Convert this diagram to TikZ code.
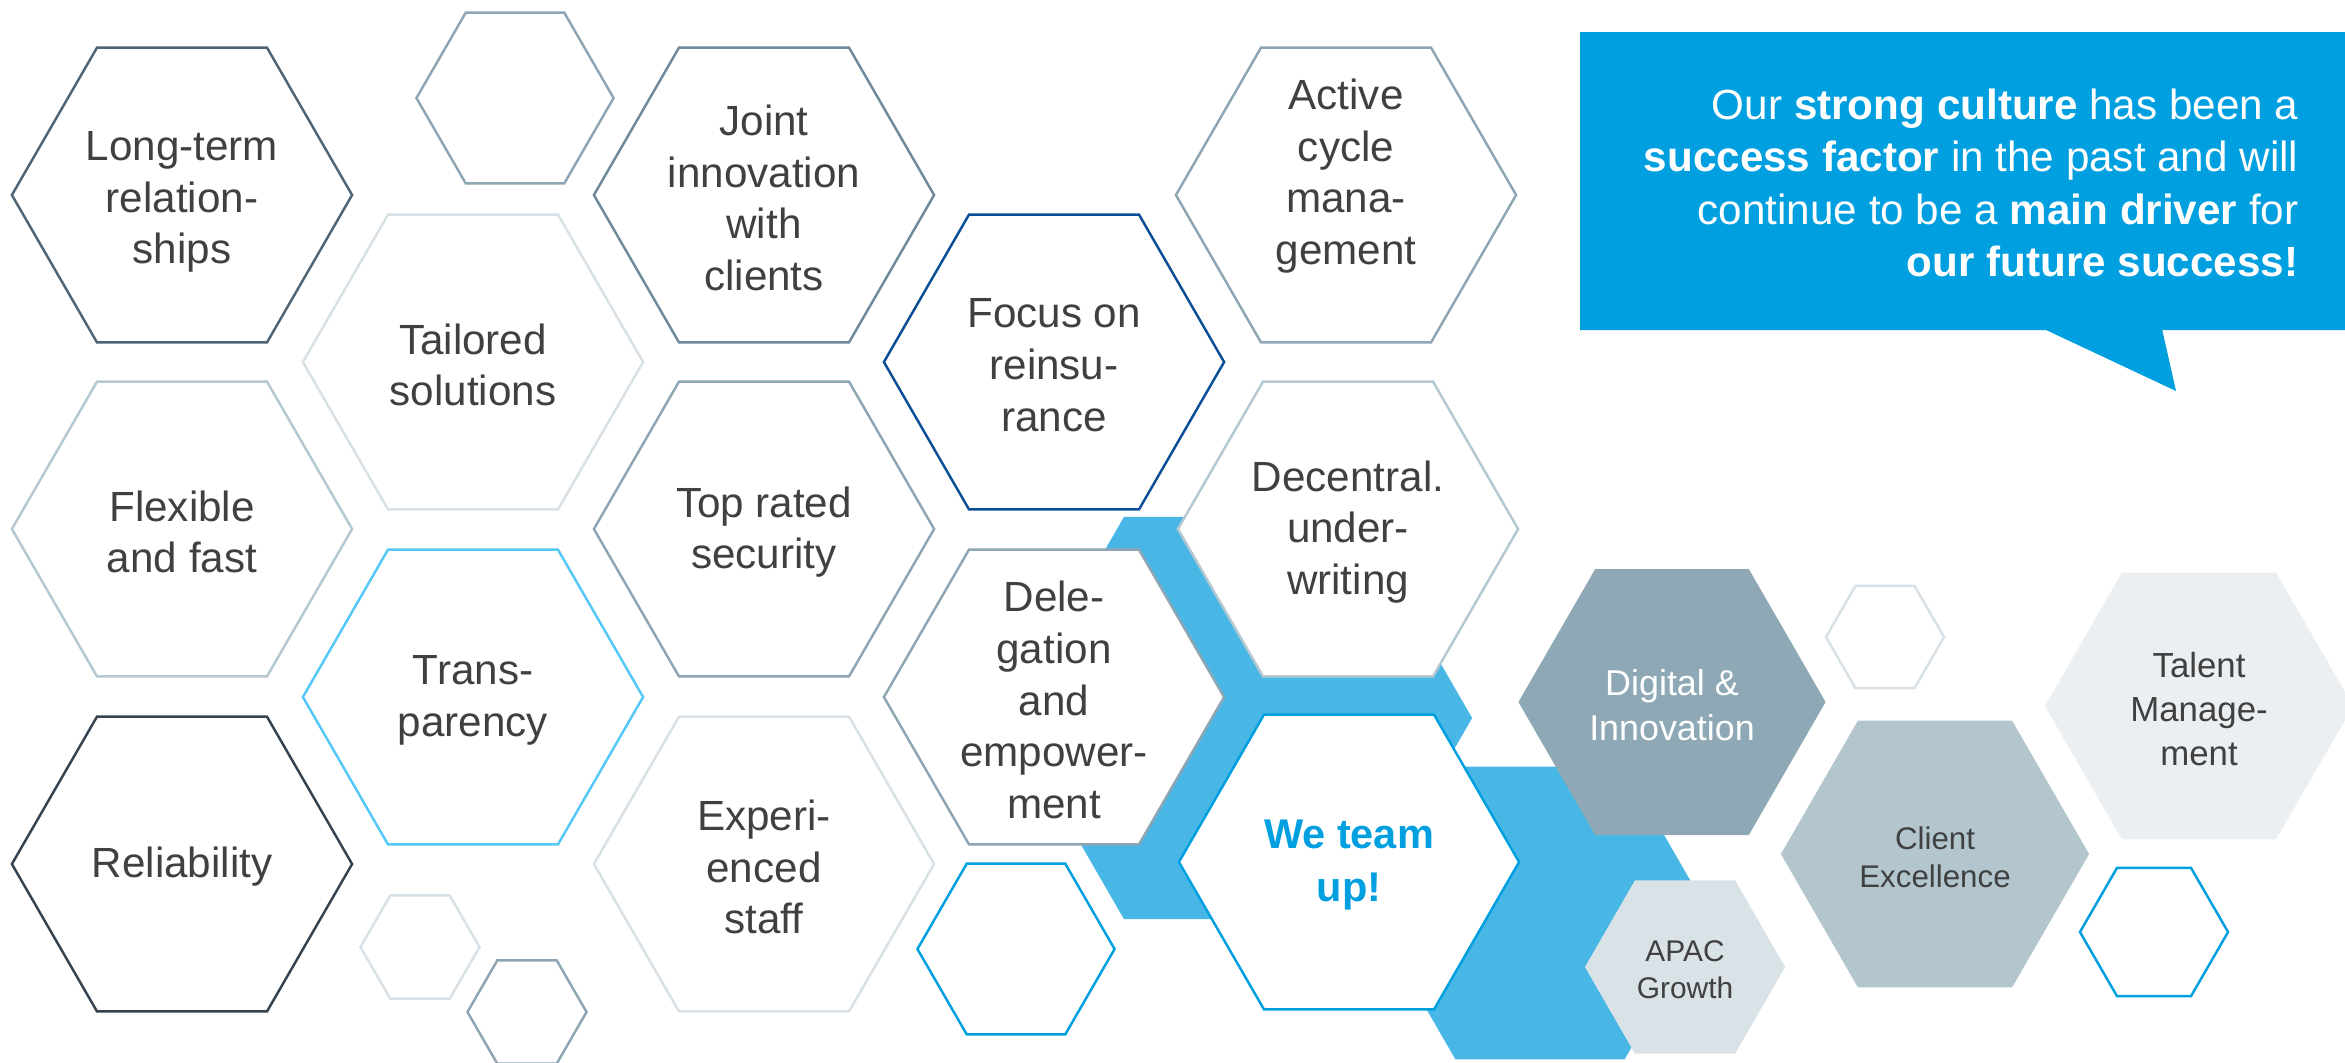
\documentclass[tikz,border=0pt]{standalone}
\usepackage{fontspec}
\setmainfont{Liberation Sans}
\usetikzlibrary{shapes.geometric}

\definecolor{txtgrey}{HTML}{404040}
\definecolor{slate}{HTML}{4F6575}
\definecolor{darkslate}{HTML}{34434F}
\definecolor{midslate}{HTML}{6E8A9C}
\definecolor{greyblue}{HTML}{8EA6B4}
\definecolor{paleblue}{HTML}{B5C8D2}
\definecolor{palegrey}{HTML}{D8E1E6}
\definecolor{skyline}{HTML}{55C8F8}
\definecolor{navy}{HTML}{0A4F96}
\definecolor{brand}{HTML}{009FE0}
\definecolor{bgblue}{HTML}{48B7E6}
\definecolor{digifill}{HTML}{8EA9B5}
\definecolor{clientfill}{HTML}{B3C6CE}
\definecolor{apacfill}{HTML}{D9E2E7}
\definecolor{talentfill}{HTML}{EBEFF2}

\begin{document}
\begin{tikzpicture}[x=0.01cm,y=-0.01cm]
\tikzset{hexa/.style={regular polygon, regular polygon sides=6, inner sep=0pt,
    minimum size=3.4cm, fill=white, line width=0.7pt},
  txt/.style={align=center, inner sep=0pt, text=txtgrey, yshift=-0.03cm,
    font=\fontsize{12}{14.7}\selectfont}}
\clip (0,0) rectangle (2345,1062);
\fill[white] (0,0) rectangle (2345,1062);

% blue band behind the middle
\node[hexa, fill=bgblue, minimum size=4.64cm] (bgOne) at (1240,718) {};
\node[hexa, fill=bgblue, minimum size=3.38cm] (bgTwo) at (1540,913) {};

% outlined hexagons
\node[hexa, draw=slate] (hLong) at (182,195) {};
\node[hexa, draw=paleblue] (hFlex) at (182,529) {};
\node[hexa, draw=darkslate] (hRel) at (182,864) {};
\node[hexa, draw=palegrey] (hTail) at (473,362) {};
\node[hexa, draw=skyline] (hTrans) at (473,697) {};
\node[hexa, draw=midslate] (hJoint) at (764,195) {};
\node[hexa, draw=greyblue] (hTop) at (764,529) {};
\node[hexa, draw=palegrey] (hExp) at (764,864) {};
\node[hexa, draw=navy] (hFocus) at (1054,362) {};
\node[hexa, draw=greyblue] (hDel) at (1054,697) {};
\node[hexa, draw=greyblue] (hActive) at (1346,195) {};
\node[hexa, draw=paleblue] (hDec) at (1348,529) {};
\node[hexa, draw=brand] (hTeam) at (1349,862) {};

% small empty ones
\node[hexa, draw=greyblue, minimum size=1.97cm] (sTop) at (515,98) {};
\node[hexa, draw=palegrey, minimum size=1.19cm] (sLowA) at (420,947) {};
\node[hexa, draw=greyblue, minimum size=1.19cm] (sLowB) at (527,1012) {};
\node[hexa, draw=brand, minimum size=1.97cm] (sBlueA) at (1016,949) {};
\node[hexa, draw=palegrey, minimum size=1.18cm] (sGrey) at (1885,637) {};
\node[hexa, draw=brand, minimum size=1.48cm] (sBlueB) at (2154,932) {};

% filled ones on the right
\node[hexa, fill=digifill, minimum size=3.07cm] (hDigital) at (1672,702) {};
\node[hexa, fill=apacfill, minimum size=2cm] (hApac) at (1685,967) {};
\node[hexa, fill=clientfill, minimum size=3.08cm] (hClient) at (1935,854) {};
\node[hexa, fill=talentfill, minimum size=3.08cm] (hTalent) at (2199,706) {};

% labels
\node[txt, yshift=-0.04cm] (tLong) at (hLong) {Long-term\\relation-\\ships};
\node[txt] (tFlex) at (hFlex) {Flexible\\and fast};
\node[txt] (tRel) at (hRel) {Reliability};
\node[txt] (tTail) at (hTail) {Tailored\\solutions};
\node[txt] (tTrans) at (hTrans) {Trans-\\parency};
\node[txt] (tJoint) at (hJoint) {Joint\\innovation\\with\\clients};
\node[txt] (tTop) at (hTop) {Top rated\\security};
\node[txt] (tExp) at (hExp) {Experi-\\enced\\staff};
\node[txt] (tFocus) at (hFocus) {Focus on\\reinsu-\\rance};
\node[txt] (tDel) at (hDel) {Dele-\\gation\\and\\empower-\\ment};
\node[txt, yshift=0.22cm] (tActive) at (hActive) {Active\\cycle\\mana-\\gement};
\node[txt] (tDec) at (hDec) {Decentral.\\under-\\writing};
\node[txt, text=brand, font=\fontsize{11.8}{15.3}\selectfont\bfseries] (tTeam) at (hTeam) {We team\\up!};
\node[txt, text=white, font=\fontsize{10.2}{12.8}\selectfont] (tDigital) at (hDigital) {Digital \&\\Innovation};
\node[txt, font=\fontsize{8.5}{10.5}\selectfont] (tApac) at (hApac) {APAC\\Growth};
\node[txt, font=\fontsize{8.9}{10.8}\selectfont] (tClient) at (hClient) {Client\\Excellence};
\node[txt, font=\fontsize{9.9}{12.5}\selectfont] (tTalent) at (hTalent) {Talent\\Manage-\\ment};

% speech bubble
\fill[brand] (1580,32) rectangle (2345,330) (2044,329) -- (2176,391) -- (2162,329) -- cycle;
\node[txt, align=right, text=white, anchor=east, font=\fontsize{12}{14.9}\selectfont] (tBubble) at (2299,180)
  {Our \textbf{strong culture} has been a\\
   \textbf{success factor} in the past and will\\
   continue to be a \textbf{main driver} for\\
   \textbf{our future success!}};
\end{tikzpicture}
\end{document}
